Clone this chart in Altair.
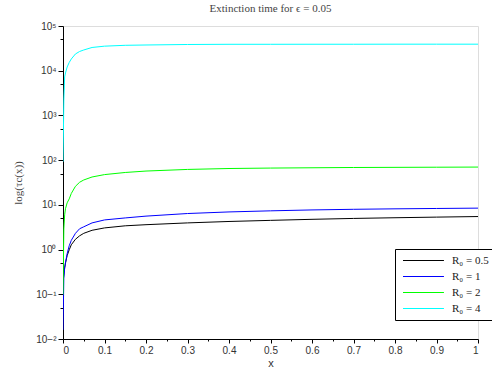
import altair as alt
import pandas as pd

# Sampled extinction times tau_c(x) for epsilon = 0.05, one series per R0
x_vals = [0, 0.002, 0.004, 0.006, 0.01, 0.015, 0.02, 0.03, 0.04, 0.05, 0.07,
          0.1, 0.15, 0.2, 0.3, 0.4, 0.5, 0.6, 0.7, 0.8, 0.9, 1.0]
tau_r05 = [0.18, 0.27, 0.39, 0.50, 0.73, 0.99, 1.28, 1.70, 2.03, 2.31, 2.70,
           3.05, 3.40, 3.60, 3.95, 4.25, 4.50, 4.75, 4.97, 5.15, 5.32, 5.48]
tau_r1 = [0.016, 0.23, 0.39, 0.51, 0.81, 1.22, 1.61, 2.31, 2.92, 3.23, 3.95,
          4.6, 5.1, 5.6, 6.4, 6.95, 7.35, 7.7, 7.95, 8.15, 8.3, 8.45]
tau_r2 = [0.098, 2.9, 6.0, 8.2, 11.1, 13.6, 18.0, 26.0, 32.0, 36.0, 42.0,
          47.5, 53.0, 57.0, 62.0, 65.0, 66.5, 67.5, 68.5, 69.0, 69.5, 70.0]
tau_r4 = [92, 2220, 7260, 8910, 12100, 15300, 18300, 23700, 26900, 29100, 33100,
          35400, 37000, 37600, 38600, 39000, 39000, 39100, 39100, 39200, 39200, 39200]

series_names = ["R₀ = 0.5", "R₀ = 1", "R₀ = 2", "R₀ = 4"]
series_colors = ["#000000", "#0000ff", "#00ff00", "#00ffff"]
series_values = [tau_r05, tau_r1, tau_r2, tau_r4]

x_ticks = [round(i * 0.05, 2) for i in range(21)]
y_ticks = [0.01, 0.05, 0.1, 0.5, 1, 5, 10, 50, 100, 500, 1000, 5000, 1e4, 5e4, 1e5]

rows = []
for name, vals in zip(series_names, series_values):
    for xv, tv in zip(x_vals, vals):
        rows.append({"x": xv, "tau": tv, "series": name})
df = pd.DataFrame(rows)

sup_expr = (
    "replace(replace(replace(replace(replace(replace(replace(replace("
    "format(round(log(datum.value)/log(10)), 'd'),"
    "'-', '⁻'), '0', '⁰'), '1', '¹'), '2', '²'), '3', '³'), '4', '⁴'), '5', '⁵'), '6', '⁶')"
)
y_major_test = "abs(log(datum.value)/log(10) - round(log(datum.value)/log(10))) < 1e-6"
y_label_expr = y_major_test + " ? '10' + " + sup_expr + " : ''"
x_major_test = "round(datum.value*100) % 10 == 0"

# legend line sample: a horizontal stroke drawn to the right of the symbol centre
legend_sym_size = 49  # sqrt -> 7 px unit
legend_path = "M-1,0H10.7"

chart = alt.Chart(df).mark_line(strokeWidth=1, clip=True).encode(
    x=alt.X(
        "x:Q",
        scale=alt.Scale(domain=[0, 1], nice=False),
        axis=alt.Axis(
            title="x",
            values=x_ticks,
            labelExpr=x_major_test + " ? format(datum.value, '~g') : ''",
            tickSize={"condition": {"test": x_major_test, "value": 4}, "value": 2},
            grid=False,
            domainColor="#000000",
            tickColor="#000000",
            labelFont="Liberation Sans",
            labelFontSize=10,
            labelColor="#333333",
            labelPadding=2,
            titleFont="Liberation Sans",
            titleFontSize=11,
            titleFontWeight="normal",
            titleColor="#333333",
            titlePadding=2,
        ),
    ),
    y=alt.Y(
        "tau:Q",
        scale=alt.Scale(type="log", domain=[0.01, 1e5], nice=False),
        axis=alt.Axis(
            title="log(τc(x))",
            values=y_ticks,
            labelExpr=y_label_expr,
            tickSize={"condition": {"test": y_major_test, "value": 5}, "value": 3},
            grid=False,
            domainColor="#000000",
            tickColor="#000000",
            labelFont="Liberation Sans",
            labelFontSize=10,
            labelColor="#333333",
            labelPadding=2,
            titleFont="Liberation Serif",
            titleFontSize=11,
            titleFontWeight="normal",
            titleColor="#444444",
            titlePadding=12,
        ),
    ),
    color=alt.Color(
        "series:N",
        sort=series_names,
        scale=alt.Scale(domain=series_names, range=series_colors),
        legend=alt.Legend(
            title=None,
            orient="none",
            legendX=332,
            legendY=223,
            symbolType=legend_path,
            symbolSize=legend_sym_size,
            symbolStrokeWidth=1,
            labelFont="Liberation Serif",
            labelFontSize=11,
            labelColor="#222222",
            strokeColor="#000000",
            fillColor="#ffffff",
            padding=6,
            rowPadding=4,
            labelOffset=40,
        ),
    ),
).properties(
    width=415,
    height=313,
    title=alt.TitleParams(
        "Extinction time for ϵ = 0.05",
        font="Liberation Serif",
        fontSize=11,
        fontWeight="normal",
        color="#444444",
        offset=7,
    ),
    autosize=alt.AutoSizeParams(type="none"),
    padding={"left": 63, "top": 26, "right": 14, "bottom": 35},
).configure_view(stroke=None).configure(background="#ffffff")

chart.save("out.html", embed_options={"renderer": "svg", "actions": False})
